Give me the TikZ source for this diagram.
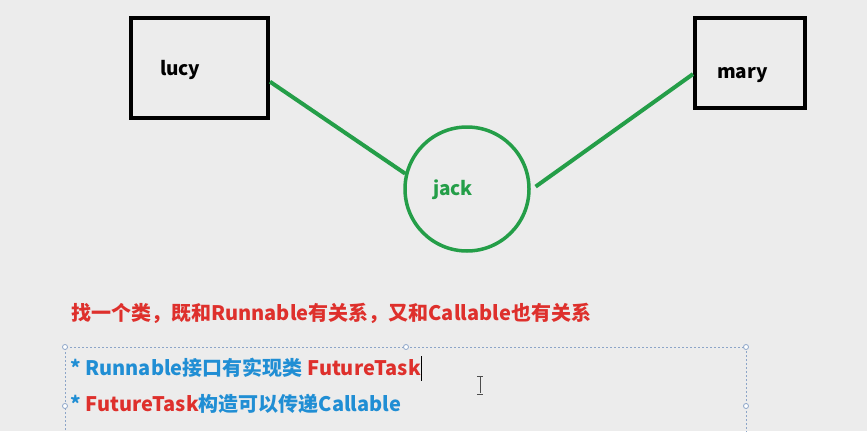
\documentclass[tikz,border=0pt]{standalone}
\usepackage{fontspec}
\newfontfamily\cjk{Noto Sans CJK SC}
\usetikzlibrary{calc}
\definecolor{bg}{RGB}{236,236,236}
\definecolor{tred}{RGB}{222,48,44}
\definecolor{tblue}{RGB}{32,142,212}
\definecolor{tgreen}{RGB}{36,158,72}
\definecolor{framec}{RGB}{140,165,200}

\begin{document}
\begin{tikzpicture}[x=1pt,y=-1pt]
	\fill[bg] (0,0) rectangle (867,431);
	\useasboundingbox (0,0) rectangle (867,431);
	\tikzstyle{person} = [draw, line width=4pt, minimum height=100pt, align=left, text depth=0pt, font=\cjk\bfseries\fontsize{19}{21}\selectfont]
	\tikzstyle{link} = [tgreen, line width=4pt]
	\tikzstyle{txt} = [anchor=west, inner sep=0pt, font=\cjk\bfseries\fontsize{20}{23}\selectfont]
	\tikzstyle{handle} = [circle, draw=framec, fill=white, inner sep=0pt, minimum size=5pt, line width=0.8pt]
	% the three people
	\node[person, inner xsep=29pt, text width=79pt, text height=14pt] (lucy) at (199.5,68) {lucy};
	\node[person, inner xsep=22pt, text width=66pt, text height=30pt, minimum height=90pt] (mary) at (750,63) {mary};
	\node[circle, draw=tgreen, line width=3.5pt, minimum size=124pt] (jack) at (467,189) {};
	\node[txt, tgreen, font=\cjk\bfseries\fontsize{19}{21}\selectfont, anchor=center] (jacklbl) at (453,190) {jack};
	\draw[link] (lucy.-11) -- (jack.166);
	\draw[link, shorten >=6pt] (mary.191) -- (jack.-1);
	% notes
	\node[txt, tred] (head) at (71,313) {找一个类，既和Runnable有关系，又和Callable也有关系};
	\draw[framec, line width=0.8pt, dash pattern=on 2pt off 2pt] (65,470) -- (65,347) -- (746,347) -- (746,470);
	\foreach \p in {(65,347),(406,347),(746,347),(65,406),(746,406)}
		\node[handle] at \p {};
	\node[txt] (line1) at (70,368) {\textcolor{tblue}{* Runnable接口有实现类} \textcolor{tred}{FutureTask}};
	\node[txt] (line2) at (70,404) {\textcolor{tblue}{*} \textcolor{tred}{FutureTask}\textcolor{tblue}{构造可以传递Callable}};
	\draw[line width=1pt] ($(line1.east)+(1,-12)$) -- ++(0,25);
	% mouse cursor
	\coordinate (ibeam) at (480,385);
	\draw[black!70, line width=1pt] ($(ibeam)+(0,-8)$) -- ++(0,16) ($(ibeam)+(-3,-9)$) -- ++(6,0) ($(ibeam)+(-3,9)$) -- ++(6,0);
\end{tikzpicture}
\end{document}
